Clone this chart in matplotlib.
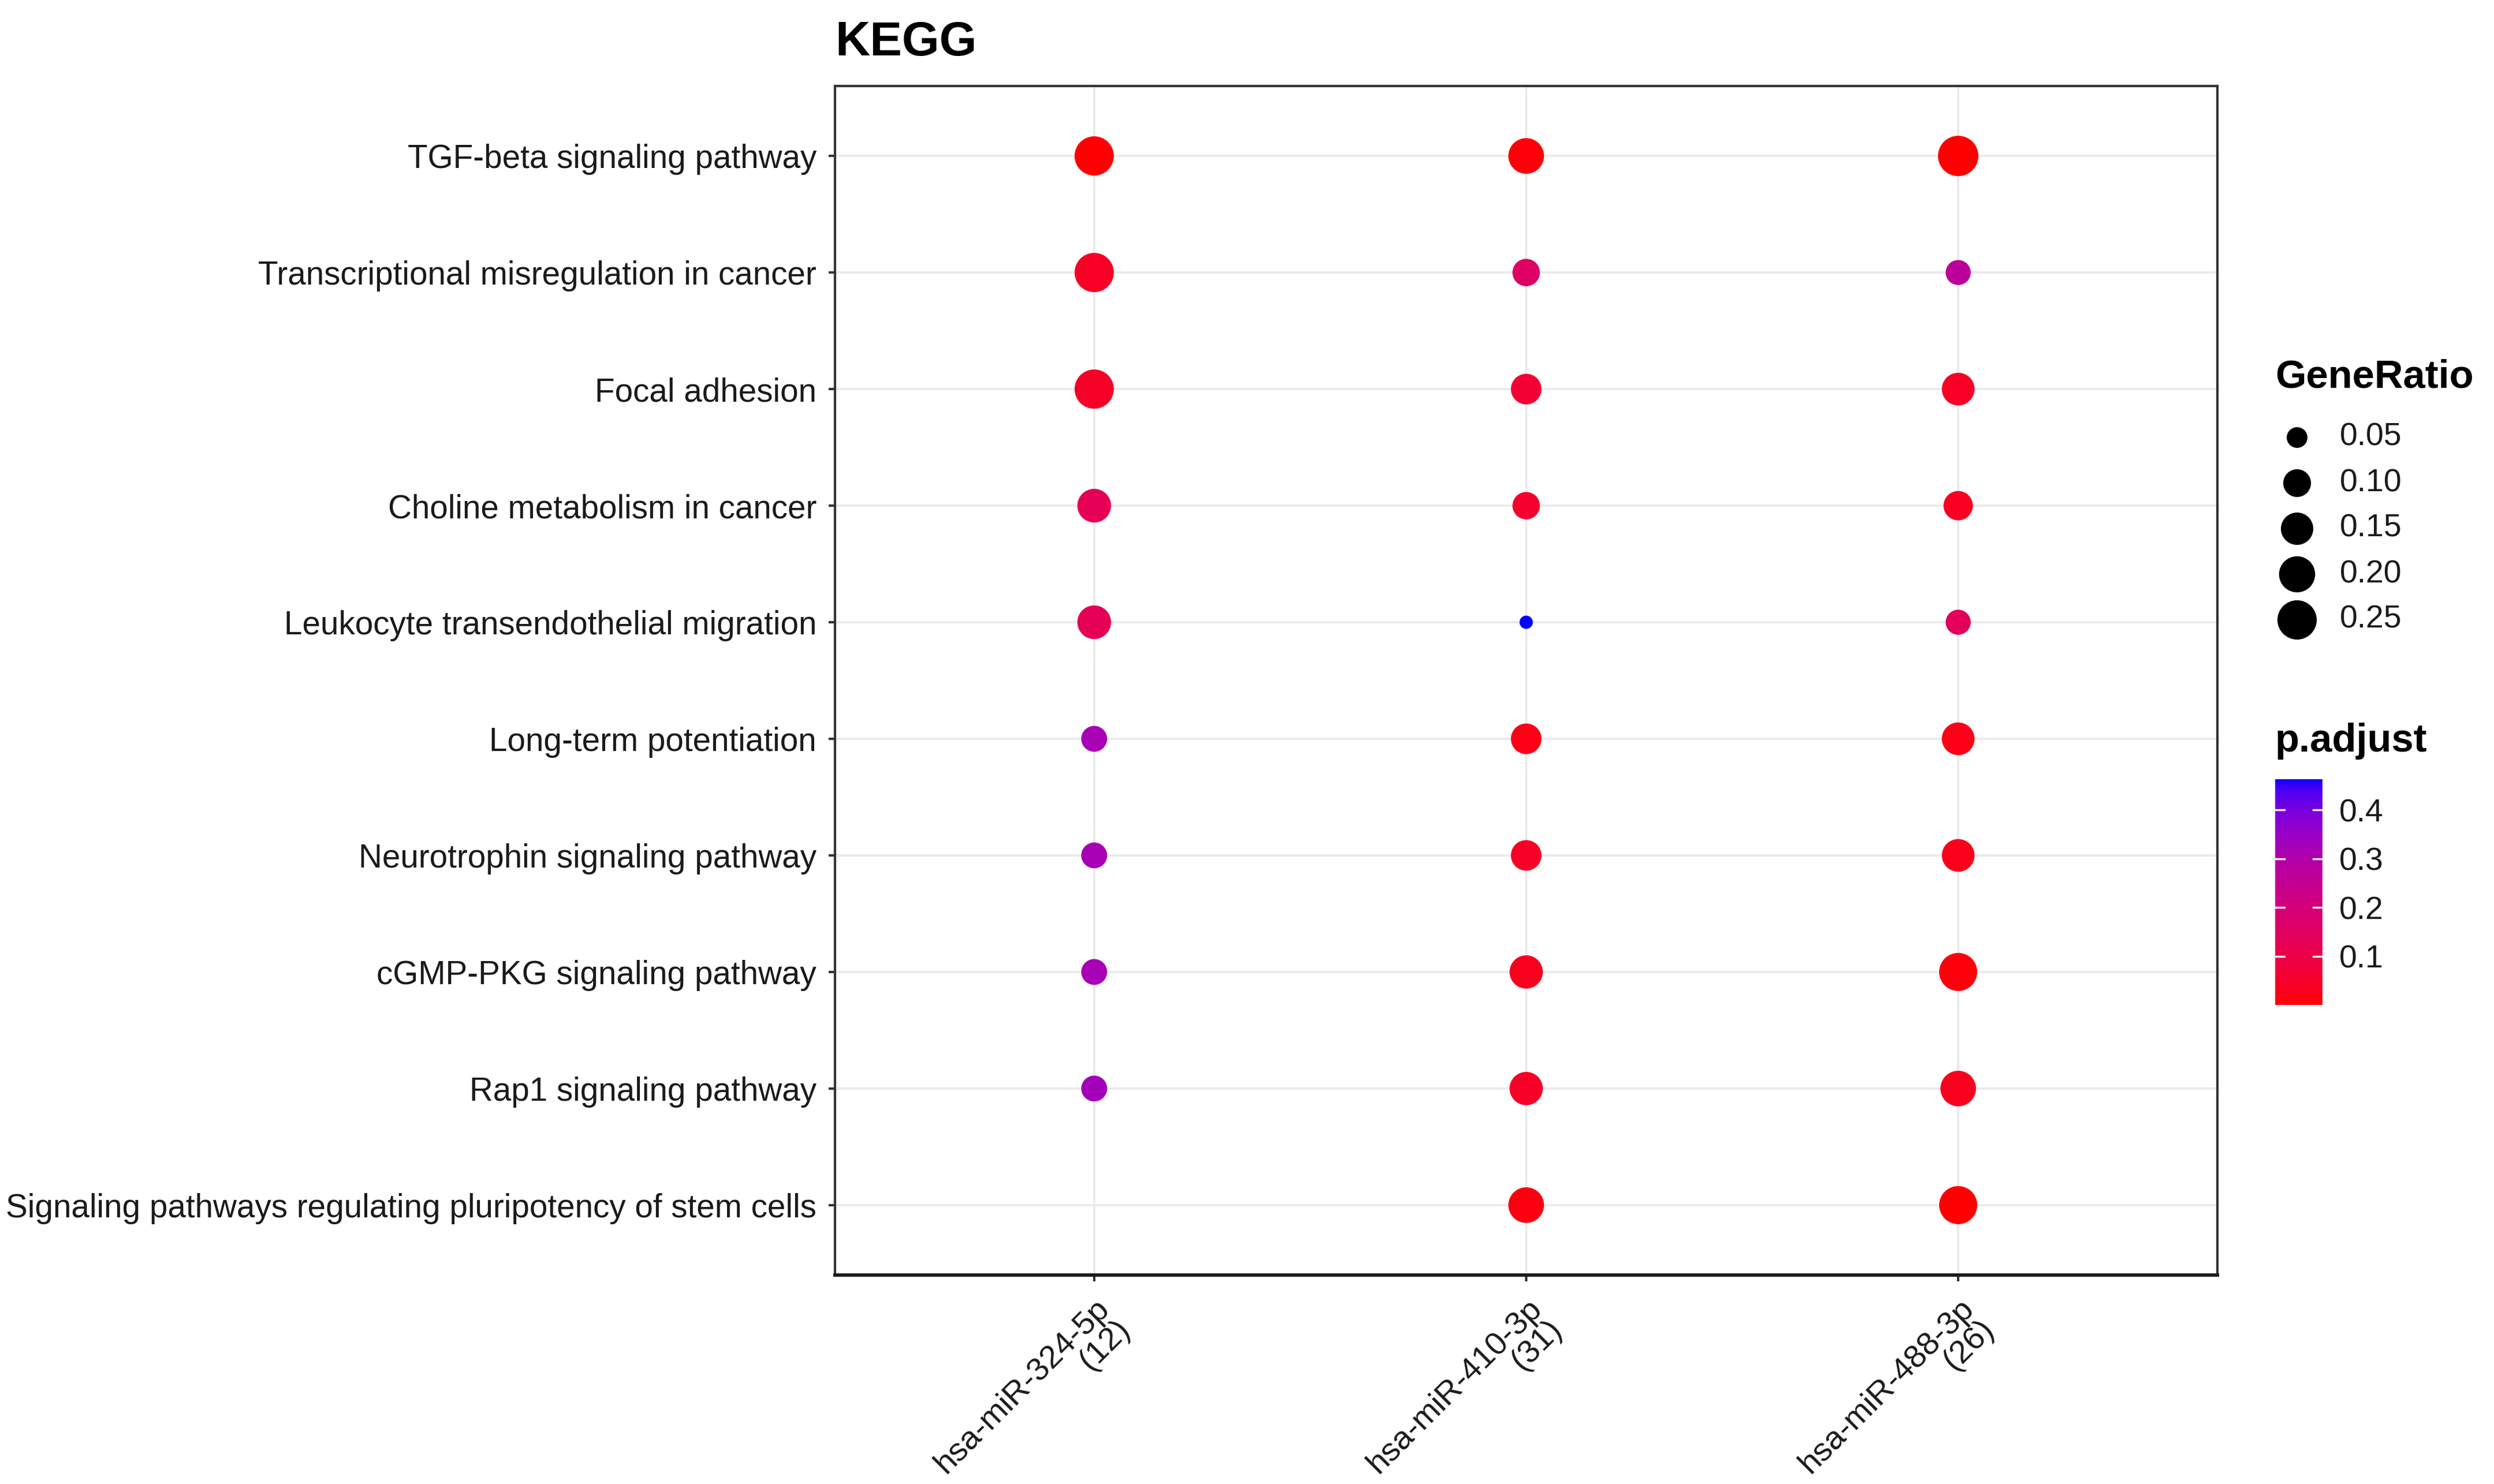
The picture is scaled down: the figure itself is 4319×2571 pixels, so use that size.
import numpy as np
import matplotlib
matplotlib.use("Agg")
import matplotlib.pyplot as plt
from matplotlib.colors import ListedColormap, Normalize
from matplotlib.cm import ScalarMappable

plt.rcParams['font.family'] = ['Liberation Sans', 'DejaVu Sans']

# ---------------- data ----------------
title = "KEGG"
pathways = [
    "TGF-beta signaling pathway",
    "Transcriptional misregulation in cancer",
    "Focal adhesion",
    "Choline metabolism in cancer",
    "Leukocyte transendothelial migration",
    "Long-term potentiation",
    "Neurotrophin signaling pathway",
    "cGMP-PKG signaling pathway",
    "Rap1 signaling pathway",
    "Signaling pathways regulating pluripotency of stem cells",
]
clusters = ["hsa-miR-324-5p", "hsa-miR-410-3p", "hsa-miR-488-3p"]
cluster_totals = [12, 31, 26]

# gene counts per pathway (rows) and cluster (cols); nan = not enriched
counts_324 = [3, 3, 3, 2, 2, 1, 1, 1, 1, np.nan]
counts_410 = [6, 3, 4, 3, 1, 4, 4, 5, 5, 6]
counts_488 = [7, 2, 4, 3, 2, 4, 4, 6, 5, 6]

padj_324 = [0.004, 0.04, 0.045, 0.13, 0.13, 0.32, 0.32, 0.32, 0.33, np.nan]
padj_410 = [0.008, 0.16, 0.065, 0.055, 0.463, 0.02, 0.045, 0.03, 0.04, 0.012]
padj_488 = [0.002, 0.27, 0.04, 0.035, 0.14, 0.02, 0.025, 0.01, 0.03, 0.004]

size_breaks = [0.05, 0.10, 0.15, 0.20, 0.25]
color_breaks = [0.1, 0.2, 0.3, 0.4]

# ---------------- colour scale (Lab interpolation red -> blue, like ggplot) ----------------
def srgb_to_lab(rgb):
    rgb = np.asarray(rgb, float)
    lin = np.where(rgb <= 0.04045, rgb / 12.92, ((rgb + 0.055) / 1.055) ** 2.4)
    M = np.array([[0.4124, 0.3576, 0.1805],
                  [0.2126, 0.7152, 0.0722],
                  [0.0193, 0.1192, 0.9505]])
    xyz = M @ lin / np.array([0.95047, 1.0, 1.08883])
    f = np.where(xyz > 0.008856, np.cbrt(xyz), 7.787 * xyz + 16 / 116)
    return np.array([116 * f[1] - 16, 500 * (f[0] - f[1]), 200 * (f[1] - f[2])])

def lab_to_srgb(lab):
    L, a, b = lab
    fy = (L + 16) / 116
    fx = fy + a / 500
    fz = fy - b / 200
    f = np.array([fx, fy, fz])
    xyz = np.where(f ** 3 > 0.008856, f ** 3, (f - 16 / 116) / 7.787)
    xyz = xyz * np.array([0.95047, 1.0, 1.08883])
    Minv = np.array([[3.2406, -1.5372, -0.4986],
                     [-0.9689, 1.8758, 0.0415],
                     [0.0557, -0.2040, 1.0570]])
    lin = Minv @ xyz
    lin = np.clip(lin, 0, 1)
    rgb = np.where(lin <= 0.0031308, 12.92 * lin, 1.055 * lin ** (1 / 2.4) - 0.055)
    return np.clip(rgb, 0, 1)

lab_lo = srgb_to_lab([1, 0, 0])
lab_hi = srgb_to_lab([0, 0, 1])
cmap = ListedColormap([lab_to_srgb(lab_lo + (lab_hi - lab_lo) * t) for t in np.linspace(0, 1, 256)])

# ---------------- assemble ----------------
counts = np.array([counts_324, counts_410, counts_488], float)   # (3, 10)
padj = np.array([padj_324, padj_410, padj_488], float)
ratios = counts / np.array(cluster_totals, float)[:, None]

r_lo, r_hi = np.nanmin(ratios), np.nanmax(ratios)
p_lo, p_hi = 0.0005, np.nanmax(padj)
norm = Normalize(p_lo, p_hi)

DPI = 300
W, H = 4319, 2571
D_MIN, D_MAX = 23.0, 70.0   # marker diameters in pixels

def size_pts2(r):
    r = np.asarray(r, float)
    d = D_MIN + (D_MAX - D_MIN) * np.sqrt(np.clip((r - r_lo) / (r_hi - r_lo), 0, 1))
    return (d * 72.0 / DPI) ** 2

fig = plt.figure(figsize=(W / DPI, H / DPI), dpi=DPI)
ax = fig.add_axes([1446 / W, 1 - 2209 / H, (3840 - 1446) / W, (2209 - 149) / H])

xs, ys, ss, cs = [], [], [], []
for ci in range(len(clusters)):
    for pi in range(len(pathways)):
        if np.isnan(ratios[ci, pi]):
            continue
        xs.append(ci + 1)
        ys.append(pi + 1)
        ss.append(size_pts2(ratios[ci, pi]))
        cs.append(padj[ci, pi])
ax.scatter(xs, ys, s=ss, c=cs, cmap=cmap, norm=norm, linewidths=0, zorder=3)

ax.set_xlim(0.4, len(clusters) + 0.6)
ax.set_ylim(len(pathways) + 0.6, 0.4)
ax.set_xticks(range(1, len(clusters) + 1))
ax.set_yticks(range(1, len(pathways) + 1))
ax.set_yticklabels(pathways, fontsize=13.6, color='#1a1a1a')
ax.set_xticklabels([f"{c}\n({n})" for c, n in zip(clusters, cluster_totals)],
                   fontsize=13.5, rotation=45, ha='right', va='top',
                   rotation_mode='anchor', multialignment='right', color='#1a1a1a',
                   linespacing=0.95)
ax.tick_params(axis='both', length=2.7, width=1.0, color='#333333', pad=5)
ax.grid(True, color='#EBEBEB', linewidth=1.0, zorder=0)
ax.set_axisbelow(True)
for side in ['left', 'right', 'top']:
    ax.spines[side].set_color('#333333')
    ax.spines[side].set_linewidth(1.0)
ax.spines['bottom'].set_color('#1a1a1a')
ax.spines['bottom'].set_linewidth(1.4)

fig.text(1446 / W, 1 - 96 / H, title, fontsize=20, fontweight='bold', ha='left', va='baseline')

# ---------------- size legend ----------------
lax = fig.add_axes([3920 / W, 1 - 1120 / H, (W - 3920) / W, 500 / H])
lax.set_xlim(3920, W)
lax.set_ylim(1120, 620)
lax.axis('off')
lax.text(3940, 653, "GeneRatio", fontsize=16.5, fontweight='bold', ha='left', va='center')
leg_y = [758 + 79 * i for i in range(len(size_breaks))]
lax.scatter([3978] * len(size_breaks), leg_y, s=size_pts2(size_breaks), c='black', linewidths=0)
for yv, b in zip(leg_y, size_breaks):
    lax.text(4052, yv, f"{b:.2f}", fontsize=13.3, ha='left', va='center', color='#1a1a1a')

# ---------------- colour bar ----------------
fig.text(3940 / W, 1 - 1284 / H, "p.adjust", fontsize=16.5, fontweight='bold', ha='left', va='center')
cax = fig.add_axes([3940 / W, 1 - 1741 / H, 82 / W, 391 / H])
cb = fig.colorbar(ScalarMappable(norm=norm, cmap=cmap), cax=cax)
cb.outline.set_visible(False)
cb.set_ticks(color_breaks)
cb.set_ticklabels([f"{v:.1f}" for v in color_breaks])
cax.tick_params(length=0, labelsize=13.3, pad=7, labelcolor='#1a1a1a')
for v in color_breaks:
    cax.axhline(v, xmin=0, xmax=0.2, color='white', linewidth=0.8)
    cax.axhline(v, xmin=0.8, xmax=1, color='white', linewidth=0.8)

fig.savefig("out.png", dpi=DPI, facecolor='white')
